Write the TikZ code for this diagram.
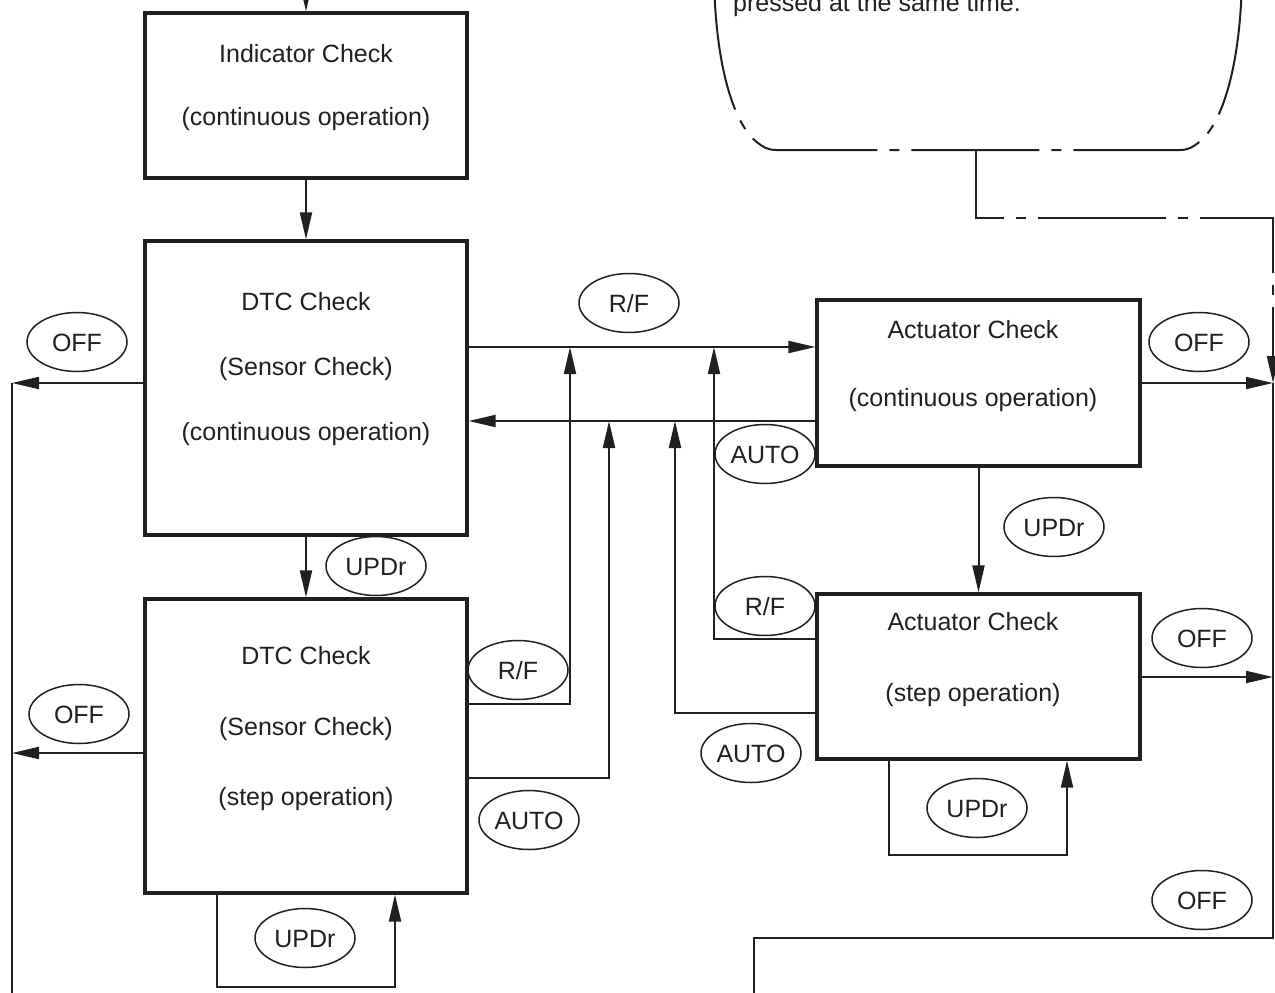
\documentclass[tikz,border=0pt]{standalone}
\usepackage{fontspec}
\setmainfont{Liberation Sans}
\usetikzlibrary{arrows.meta,shapes.geometric}
\definecolor{ink}{HTML}{231F20}
\begin{document}
\begin{tikzpicture}[x=1pt,y=-1pt,
  box/.style={draw=ink,line width=3.2pt,inner sep=0pt},
  lbl/.style={font=\fontsize{25}{30}\selectfont,text=ink,anchor=base,inner sep=0pt},
  oval/.style={ellipse,draw=ink,line width=1.5pt,minimum width=100pt,minimum height=59pt,inner sep=0pt,
    font=\fontsize{25}{30}\selectfont,text=ink,text height=18pt,text depth=0pt},
  conn/.style={draw=ink,line width=2pt},
  arr/.style={conn,-{Triangle[length=27pt,width=12pt]}},
  dashdot/.style={conn,dash pattern=on 128pt off 12pt on 10pt off 12pt}]
\useasboundingbox (0,0) rectangle (1275,993);

% boxes
\node[box,minimum width=322pt,minimum height=165pt] (ind) at (306,95.5) {};
\node[box,minimum width=322pt,minimum height=294pt] (dtc1) at (306,388) {};
\node[box,minimum width=322pt,minimum height=294pt] (dtc2) at (306,746) {};
\node[box,minimum width=323pt,minimum height=166pt] (act1) at (978.5,383) {};
\node[box,minimum width=323pt,minimum height=165pt] (act2) at (978.5,676.5) {};

% box texts
\node[lbl] (ind1) at (306,62) {Indicator Check};
\node[lbl] (ind2) at (306,125) {(continuous operation)};
\node[lbl] (dtc1a) at (306,310) {DTC Check};
\node[lbl] (dtc1b) at (306,375) {(Sensor Check)};
\node[lbl] (dtc1c) at (306,440) {(continuous operation)};
\node[lbl] (dtc2a) at (306,664) {DTC Check};
\node[lbl] (dtc2b) at (306,735) {(Sensor Check)};
\node[lbl] (dtc2c) at (306,805) {(step operation)};
\node[lbl] (act1a) at (973,338) {Actuator Check};
\node[lbl] (act1b) at (973,406) {(continuous operation)};
\node[lbl] (act2a) at (973,630) {Actuator Check};
\node[lbl] (act2b) at (973,701) {(step operation)};

% bubble (cut off at the top)
\draw[conn,dash pattern=on 128pt off 12pt on 10pt off 12pt,dash phase=138pt]
  (714,-40) .. controls (713,60) and (733,125) .. (758,143)
  .. controls (763,147) and (768,150) .. (776,150) -- (1180,150)
  .. controls (1188,150) and (1193,147) .. (1198,143)
  .. controls (1223,125) and (1243,60) .. (1242,-40);
\node[font=\fontsize{25}{30}\selectfont,text=ink,anchor=base west,inner sep=0pt] (note) at (733,12) {pressed at the same time.};

% coordinates
\coordinate (topin) at (306,-30);
\coordinate (rf1) at (570,347);
\coordinate (au1) at (609,421);
\coordinate (rf2) at (714,347);
\coordinate (au2) at (675,421);
\coordinate (c1) at (570,704);
\coordinate (c2) at (609,778);
\coordinate (c3) at (714,639);
\coordinate (c4) at (675,713);
\coordinate (offL1) at (12,383);
\coordinate (offL2) at (12,753);
\coordinate (offLb) at (12,1000);
\coordinate (offR1) at (1273,383);
\coordinate (offR2) at (1273,677);
\coordinate (rb1) at (1273,938);
\coordinate (rb2) at (754,938);
\coordinate (rb3) at (754,1000);
\coordinate (bub) at (976,150);
\coordinate (dd1) at (976,218);
\coordinate (dd2) at (1273,218);
\coordinate (l1a) at (217,987);
\coordinate (l1b) at (395,987);
\coordinate (l2a) at (889,855);
\coordinate (l2b) at (1067,855);

% connectors
\draw[arr] (topin) -- (ind.north);
\draw[arr] (ind.south) -- (dtc1.north);
\draw[arr] (dtc1.south) -- (dtc2.north);
\draw[arr] (dtc1.east |- rf1) -- (act1.west |- rf1);
\draw[arr] (act1.west |- au1) -- (dtc1.east |- au1);
\draw[arr] (dtc2.east |- c1) -- (c1) -- (rf1);
\draw[arr] (dtc2.east |- c2) -- (c2) -- (au1);
\draw[arr] (act2.west |- c3) -- (c3) -- (rf2);
\draw[arr] (act2.west |- c4) -- (c4) -- (au2);
\draw[arr] (act1.south) -- (act2.north);
\draw[arr] (dtc2.south -| l1a) -- (l1a) -- (l1b) -- (dtc2.south -| l1b);
\draw[arr] (act2.south -| l2a) -- (l2a) -- (l2b) -- (act2.south -| l2b);
\draw[arr] (dtc1.west |- offL1) -- (offL1);
\draw[arr] (dtc2.west |- offL2) -- (offL2);
\draw[conn] (offL1) -- (offLb);
\draw[arr] (act1.east |- offR1) -- (offR1);
\draw[arr] (act2.east |- offR2) -- (offR2);
\draw[conn] (offR1) -- (rb1) -- (rb2) -- (rb3);
\draw[arr,dash pattern=on 128pt off 12pt on 10pt off 12pt,dash phase=32pt] (bub) -- (dd1) -- (dd2) -- (offR1);

% labels
\node[oval] (offa) at (77,342) {OFF};
\node[oval] (offb) at (79,714) {OFF};
\node[oval] (offc) at (1199,342) {OFF};
\node[oval] (offd) at (1202,638) {OFF};
\node[oval] (offe) at (1202,900) {OFF};
\node[oval] (rfa) at (629,303) {R/F};
\node[oval] (rfb) at (518,670) {R/F};
\node[oval] (rfc) at (765,606) {R/F};
\node[oval] (aua) at (765,454) {AUTO};
\node[oval] (aub) at (529,820) {AUTO};
\node[oval] (auc) at (751,753) {AUTO};
\node[oval] (upa) at (376,566) {UPDr};
\node[oval] (upb) at (1054,527) {UPDr};
\node[oval] (upc) at (977,808) {UPDr};
\node[oval] (upd) at (305,938) {UPDr};
\end{tikzpicture}
\end{document}
